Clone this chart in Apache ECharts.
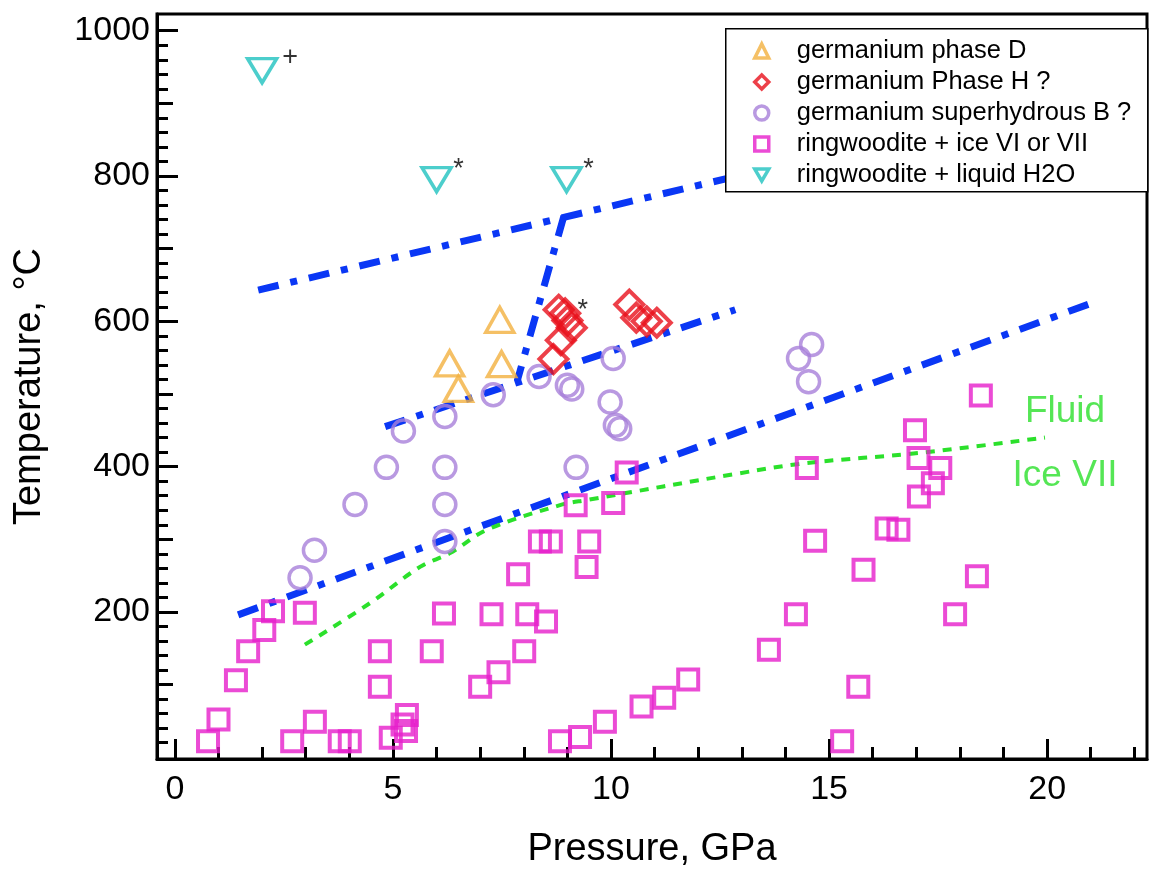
<!DOCTYPE html>
<html><head><meta charset="utf-8">
<script src="https://cdn.jsdelivr.net/npm/echarts@6/dist/echarts.min.js"></script>
<style>html,body{margin:0;padding:0;background:#fff;}#chart{width:1149px;height:882px;}</style>
</head><body><div id="chart"></div>
<script>
// ---- tick values ----
const xLabelValues = [0, 5, 10, 15, 20];
const xMinorTickValues = [1,2,3,4,6,7,8,9,11,12,13,14,16,17,18,19,21,22];
const yLabelValues = [200, 400, 600, 800, 1000];
const yMidTickValues = [100, 300, 500, 700, 900];
const yMinorTickValues = [20,40,60,80,120,140,160,180,220,240,260,280,320,340,360,380,420,440,460,480,520,540,560,580,620,640,660,680,720,740,760,780,820,840,860,880,920,940,960,980];

// ---- data: [pressure GPa, temperature °C] ----
const germaniumPhaseD = [[7.45,602],[6.3,542],[7.49,541],[6.5,507]];
const germaniumPhaseH = [[8.8,616],[8.95,611],[9.0,601],[9.1,591],[8.85,574],[8.68,548],[10.42,623],[10.58,605],[10.82,600],[11.05,598]];
const superhydrousB = [[2.87,247],[3.2,285],[4.13,348],[4.85,399],[5.24,449],[6.19,469],[6.19,399],[6.19,348],[6.19,297],[7.3,499],[8.35,524],[9.0,512],[9.1,507],[10.05,549],[9.98,489],[10.1,457],[10.2,452],[9.2,399],[14.3,549],[14.6,568],[14.53,517]];
const ringwooditeIce = [[0.76,22],[1.0,52],[1.4,106],[1.68,146],[2.05,175],[2.25,201],[2.98,199],[2.69,22],[3.21,49],[3.78,22],[4.01,22],[4.7,146],[4.7,97],[4.95,27],[5.22,45],[5.32,58],[5.3,36],[5.89,146],[6.17,198],
  [7.0,97],[7.42,117],[7.26,197],[8.08,197],[8.51,187],[8.01,146],[7.87,252],[8.37,297],[8.62,297],[9.5,297],[9.44,262],[9.19,347],[10.05,350],[10.36,392],[8.83,22],[9.29,28],[9.86,49],[10.7,70],[11.22,82],[11.77,107],
  [13.62,148],[14.24,197],[14.49,398],[14.68,298],[15.3,22],[15.67,97],[15.79,258],[16.32,315],[16.59,313],[16.97,450],[17.05,412],[17.55,398],[17.38,377],[17.06,359],[17.89,197],[18.39,249],[18.48,498]];
const ringwooditeLiquid = [[2.0,945],[6.0,795],[8.98,795]];

// phase boundaries
const boundaryUpper = [[1.91,643],[12.9,800]];
const boundarySteep = [[8.92,745],[7.85,518]];
const boundaryMiddle = [[4.82,455],[12.85,616]];
const boundaryLower = [[1.45,196],[21.2,629]];
const iceVIIMelting = [[2.98,155],[4.47,212],[5.62,262],[6.31,281],[7.15,313],[8.83,347],[9.44,354],[12.96,391],[14.49,405],[17.09,419],[19.95,440]];

const seriesNames = ['germanium phase D','germanium Phase H ?','germanium superhydrous B ?','ringwoodite + ice VI or VII','ringwoodite + liquid H2O'];
const regionLabels = [{name:'Fluid', value:[20.41,476]},{name:'Ice VII', value:[20.41,387]}];

const FONT = '"Liberation Sans", Arial, sans-serif';
const BLUE = '#0A37F5', GREEN = '#2BE02B';
const clear = 'rgba(0,0,0,0)';

const chart = echarts.init(document.getElementById('chart'), null, {renderer:'canvas'});

function boundary(data){
  return {type:'line', data:data, symbol:'none', z:1, silent:true,
    lineStyle:{color:BLUE, width:7, type:[21,12,7,12], cap:'butt'}};
}
function tickAxis(kind, values, len){
  const lim = kind === 'x' ? {min:-0.41, max:22.29, position:'bottom'} : {min:-2.4, max:1023, position:'left'};
  return Object.assign({type:'value', offset:0,
    axisLine:{show:false, onZero:false},
    axisTick:{show:true, inside:true, length:len, lineStyle:{color:'#000', width:3}, customValues:values},
    axisLabel:{show:false}, splitLine:{show:false}}, lim);
}

const option = {
  animation:false,
  backgroundColor:'#fff',
  textStyle:{fontFamily:FONT},
  grid:{left:157, right:2, top:14, bottom:123, show:true, borderColor:'#000', borderWidth:3, backgroundColor:clear},
  xAxis:[
    {type:'value', min:-0.41, max:22.29, position:'bottom',
     axisLine:{show:true, onZero:false, lineStyle:{color:'#000', width:3}},
     axisTick:{show:true, inside:true, length:20, lineStyle:{color:'#000', width:3}, customValues:xLabelValues},
     axisLabel:{show:true, customValues:xLabelValues, fontSize:34, color:'#000', margin:14, fontFamily:FONT,
                formatter:function(v){ return String(v); }},
     splitLine:{show:false},
     name:'Pressure, GPa', nameLocation:'middle', nameGap:72,
     nameTextStyle:{fontSize:38, color:'#000', fontFamily:FONT}},
    tickAxis('x', xMinorTickValues, 12)
  ],
  yAxis:[
    {type:'value', min:-2.4, max:1023, position:'left',
     axisLine:{show:true, onZero:false, lineStyle:{color:'#000', width:3}},
     axisTick:{show:true, inside:true, length:21, lineStyle:{color:'#000', width:3}, customValues:yLabelValues},
     axisLabel:{show:true, customValues:yLabelValues, fontSize:34, color:'#000', margin:7, fontFamily:FONT,
                formatter:function(v){ return String(v); }},
     splitLine:{show:false},
     name:'Temperature, °C', nameLocation:'middle', nameGap:108,
     nameTextStyle:{fontSize:38, color:'#000', fontFamily:FONT}},
    tickAxis('y', yMidTickValues, 16),
    tickAxis('y', yMinorTickValues, 11)
  ],
  legend:{
    orient:'vertical', left:725, top:28, padding:[10,10,8,28], itemGap:5,
    itemWidth:14, itemHeight:14, z:60,
    itemStyle:{borderWidth:3.5},
    textStyle:{fontSize:25.5, lineHeight:25, color:'#000', fontFamily:FONT, padding:[0,0,0,23]},
    data:seriesNames.map(function(n,i){ return i===4 ? {name:n, icon:'path://M0,0L20,0L10,17Z'} : {name:n}; })
  },
  graphic:[{type:'rect', left:725, top:28, z:50, silent:true,
    shape:{width:422, height:163}, style:{fill:'#fff', stroke:'#000', lineWidth:1.5}}],
  series:[
    boundary(boundaryUpper), boundary(boundarySteep), boundary(boundaryMiddle), boundary(boundaryLower),
    {type:'line', data:iceVIIMelting, symbol:'none', z:1, silent:true, smooth:0.35,
     lineStyle:{color:GREEN, width:4, type:[9,8], cap:'butt'}},
    {name:seriesNames[0], type:'scatter', data:germaniumPhaseD, symbol:'triangle', symbolSize:[28,25], z:5,
     itemStyle:{color:clear, borderColor:'#F2B03F', borderWidth:3.5}},
    {name:seriesNames[1], type:'scatter', data:germaniumPhaseH, symbol:'diamond', symbolSize:[28,28], z:5,
     itemStyle:{color:clear, borderColor:'#E8101C', borderWidth:4}},
    {name:seriesNames[2], type:'scatter', data:superhydrousB, symbol:'circle', symbolSize:22, z:4,
     itemStyle:{color:clear, borderColor:'#A77FDA', borderWidth:3.5}},
    {name:seriesNames[3], type:'scatter', data:ringwooditeIce, symbol:'rect', symbolSize:20, z:4,
     itemStyle:{color:clear, borderColor:'#E61ECB', borderWidth:4}},
    {name:seriesNames[4], type:'scatter', data:ringwooditeLiquid, symbol:'triangle', symbolRotate:180, symbolSize:[29,24], z:5,
     itemStyle:{color:clear, borderColor:'#1FC2BF', borderWidth:3.5}},
    // annotations next to markers
    {type:'scatter', silent:true, symbolSize:0.1, itemStyle:{color:clear}, z:6,
     label:{show:true, position:'inside', fontSize:27, color:'#000', fontFamily:FONT, formatter:'{b}'},
     data:[
       {name:'+', value:ringwooditeLiquid[0], label:{offset:[28,-13]}},
       {name:'*', value:ringwooditeLiquid[1], label:{offset:[22,-10]}},
       {name:'*', value:ringwooditeLiquid[2], label:{offset:[22,-10]}},
       {name:'*', value:germaniumPhaseH[0], label:{offset:[24,1]}}
     ]},
    // region labels
    {type:'scatter', silent:true, symbolSize:0.1, itemStyle:{color:clear}, z:6,
     label:{show:true, position:'inside', fontSize:37, color:GREEN, fontFamily:FONT, formatter:'{b}'},
     data:regionLabels}
  ]
};
chart.setOption(option);
</script></body></html>
